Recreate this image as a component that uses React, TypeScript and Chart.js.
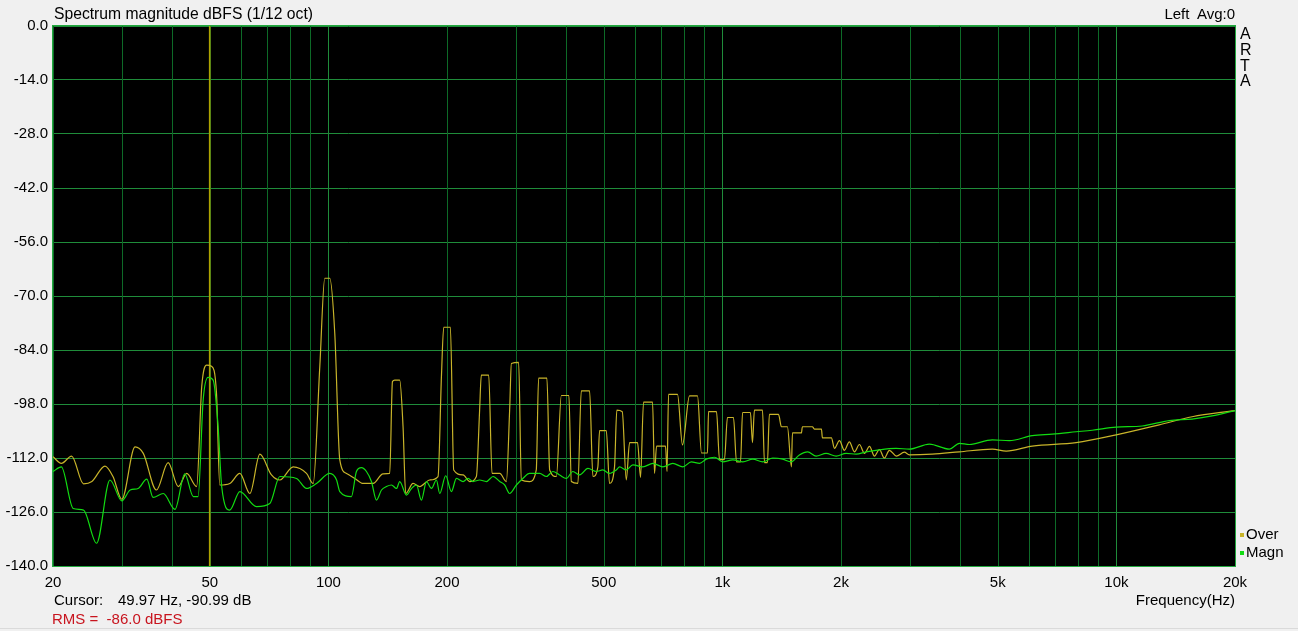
import React, { useEffect, useRef } from 'react';
import { Chart, registerables } from 'chart.js';

Chart.register(...registerables);

// ---- Data ----
const overFreq = [
  20, 21.0, 22.3, 23.9, 25.1, 27.1, 28.4, 29.9, 32.3, 33.9, 36.6, 39.2, 41.6, 43.7, 46.3,
  47.7, 49.1, 50.5, 52.0, 53.0, 56.2, 59.6, 63.2, 67.0, 71.7, 75.3, 81.4, 88.0, 91.5,
  95.1, 97.9, 100.8, 103.8, 106.9, 111.2, 116.7, 122.5, 129.9, 137.6, 143.1,
  145.4, 147.4, 151.7, 154.7, 157.1, 164, 170.5, 180.8, 189.8,
  193.6, 196.2, 204, 208, 219.7, 228.4, 237.5,
  242, 244.4, 255.2, 260.2, 272.2, 283,
  288.4, 291.4, 304, 308.9, 324, 337,
  341.6, 358.6, 364.4, 379,
  390.2, 407.8, 413.6, 429.8,
  438.4, 460.2, 469.2, 483,
  487.8, 507.4, 517, 532.4,
  539.6, 557, 570.2,
  581.4, 609, 619.8,
  630.8, 664.8, 672.6,
  680.6, 717.2, 723.6,
  730, 769.2, 792,
  825.2, 864.6, 885, 916.6,
  922, 966.2, 983.2, 1012,
  1030, 1067, 1086, 1112,
  1125, 1178, 1192,
  1206, 1264, 1279, 1301,
  1316, 1388, 1412, 1462, 1497,
  1506, 1587, 1596, 1692, 1712, 1784, 1794, 1891,
  1925, 1982, 2040, 2100, 2163, 2228, 2294, 2362, 2432, 2503, 2576, 2654, 2764, 2896, 2982,
  3410, 3995, 4842, 5253, 6116, 7907, 9988, 12842, 15566, 20000,
];
const overDb = [
  -111.7, -113.4, -111.5, -118.7, -118.1, -114.1, -116.8, -122.7, -109.1, -110.8, -120.3, -113.2, -119.4, -116, -119.4,
  -93.5, -87.9, -88.2, -95.2, -119, -118.6, -116, -121.2, -111, -116.4, -117.7, -114.3, -116, -118.6,
  -88.3, -65.4, -65.4, -79.7, -112.5, -116, -117.3, -118.6, -118.6, -116.1, -116,
  -92.2, -91.8, -91.8, -103.9, -121.2, -118.6, -119.4, -117.7, -116.8,
  -90.9, -78.1, -78.1, -115.1, -116.4, -118.1, -116.8,
  -99.6, -90.5, -90.5, -116, -116, -118.1,
  -99.6, -87.5, -87.2, -117.7, -118.1, -115.1,
  -91.3, -91.3, -115.1, -116.8,
  -95.8, -95.8, -118.1, -118.6,
  -94.6, -94.6, -116.8, -114.3,
  -104.9, -104.9, -118.6, -114.3,
  -99.6, -100, -117.7,
  -108, -108, -117,
  -97.5, -97.5, -116,
  -108.9, -108.9, -115.5,
  -95.5, -95.5, -108.6,
  -95.9, -95.9, -110.7, -110.7,
  -100, -100, -112.4, -112.4,
  -101.5, -101.5, -113, -113,
  -100.2, -100.2, -108,
  -99.6, -99.6, -113.2, -113.2,
  -100.7, -100.7, -103.9, -103.9, -114.3,
  -105.5, -105.5, -103.9, -103.9, -104.5, -104.5, -106.8, -106.8,
  -109.5, -107.5, -110, -107.8, -110.4, -108.5, -110.8, -109, -111.5, -109.8, -112, -110, -111.5, -110.5, -111.2,
  -111, -110.4, -109.7, -110.2, -108.9, -108, -106, -103.4, -101.3, -99.7,
];

const magnFreq = [
  20, 21.0, 22.5, 23.9, 25.8, 27.9, 29.9, 31.4, 32.9, 34.6, 35.9, 38.1, 40.8, 43.2, 45.4, 46.7,
  48.1, 49.5, 51.0, 52.5, 53.6, 56.2, 59.6, 65.7, 71.0, 75.3, 83.0, 88.0, 93.3, 100.8,
  104.9, 106.9, 114.4, 117.8, 121.3, 124.9, 128.6, 132.4, 136.4, 140.4, 144.6, 148.9, 151.7,
  157.8, 162.5, 167.3, 172.2, 177.4, 182.6, 188.0, 191.7, 198.5, 205.2, 211.3, 219.7, 226.2,
  232.8, 242, 251.8, 261.8, 272.2, 280.2, 288.4, 300, 311.6, 324, 343.8, 357.4, 371.4, 386.2,
  401.6, 417.4, 434.2, 455.8, 478.6, 497.2, 517, 537.8, 548.4, 570.2, 592.6, 628.4, 666.2, 706,
  748.6, 793.6, 833.6, 875, 909.8, 954.8, 1002, 1063, 1127, 1194, 1266, 1342, 1423, 1494,
  1568, 1646, 1729, 1833, 1944, 2060, 2184, 2316, 2454, 2759, 2982, 3352, 3768, 3995, 4234,
  4842, 5348, 6116, 6874, 7907, 8682, 9988, 11630, 13614, 15566, 17496, 20000,
];
const magnDb = [
  -115.5, -114.3, -125.1, -125.5, -134.1, -117.7, -123.1, -120.3, -119.9, -117.5, -122.2, -121.2, -125.3, -116.1, -122, -122,
  -97, -91.1, -91.8, -103.9, -119.4, -125.5, -120.7, -124.6, -123.8, -116.8, -117.3, -119.9, -118.6, -116,
  -117.7, -120.7, -122, -115.5, -114.5, -115.5, -118.1, -122.9, -120.3, -119.4, -119, -119.9, -118.1,
  -121.6, -119.9, -119, -122.9, -118.1, -119.9, -117.7, -121.2, -116.6, -120.7, -117.3, -118.1, -117.3,
  -118.1, -117.7, -118.1, -116.8, -118.1, -119, -121.2, -119, -117.3, -116, -116, -116.8, -115.5, -116.4,
  -117.3, -115.5, -116.4, -114.7, -115.5, -115.1, -116, -115.1, -114.3, -115.1, -113.8, -114.3, -113.4, -114.3,
  -113.4, -114.3, -113, -113.4, -112.3, -111.8, -113, -112.5, -113, -112.3, -113, -112, -112.3, -113,
  -111.2, -110.4, -111.5, -110.8, -111.5, -110.8, -111, -110.4, -110, -109.5, -109.7, -108.4, -109.7, -108.2, -108.5,
  -107.3, -107.5, -106.2, -105.8, -105.2, -104.8, -104, -103.7, -102.3, -101.9, -101.1, -99.7,
];

const cursorFreq = 49.97;
const cursorDb = -90.99;
const rmsDbfs = -86.0;

const xGridValues = [
  20, 30, 40, 50, 60, 70, 80, 90, 100, 200, 300, 400, 500, 600, 700, 800, 900,
  1000, 2000, 3000, 4000, 5000, 6000, 7000, 8000, 9000, 10000, 20000,
];
const xDecadeValues = [100, 1000, 10000];
const xLabelValues = [20, 50, 100, 200, 500, 1000, 2000, 5000, 10000, 20000];
const xLabelTexts = ['20', '50', '100', '200', '500', '1k', '2k', '5k', '10k', '20k'];

const yMin = -140;
const yMax = 0;
const yStep = 14;

const seriesNames = ['Over', 'Magn'];
const seriesColors = ['#c8b42a', '#12dc12'];
const cursorColor = '#ada200';
const gridMajor = '#1f8c3a';
const gridMinor = '#0d6a27';

const FONT = "'Liberation Sans', Arial, sans-serif";

const plotFrame = {
  id: 'plotFrame',
  beforeDraw(chart: any) {
    const { ctx, chartArea } = chart;
    const { left, top, right, bottom } = chartArea;
    ctx.save();
    ctx.fillStyle = '#000000';
    ctx.fillRect(left, top, right - left, bottom - top);
    ctx.restore();
  },
  beforeDatasetsDraw(chart: any) {
    const { ctx, chartArea, scales } = chart;
    const { top, bottom } = chartArea;
    ctx.save();
    ctx.lineWidth = 1;
    xGridValues.forEach((v) => {
      const px = Math.round(scales.x.getPixelForValue(v)) + 0.5;
      ctx.strokeStyle = xDecadeValues.indexOf(v) >= 0 ? gridMajor : gridMinor;
      ctx.beginPath();
      ctx.moveTo(px, top);
      ctx.lineTo(px, bottom);
      ctx.stroke();
    });
    ctx.restore();
  },
  afterDraw(chart: any) {
    const { ctx, chartArea } = chart;
    const { left, top, right, bottom } = chartArea;
    ctx.save();
    ctx.strokeStyle = '#22a83e';
    ctx.lineWidth = 1;
    ctx.strokeRect(Math.round(left) - 0.5, Math.round(top) - 0.5, Math.round(right - left) + 1, Math.round(bottom - top) + 1);
    ctx.restore();
  },
};

function ChartCanvas() {
  const ref = useRef<HTMLCanvasElement | null>(null);
  useEffect(() => {
    document.body.style.margin = '0';
    const canvas = ref.current;
    if (!canvas) return;
    const overData = overFreq.map((f, i) => ({ x: f, y: overDb[i] }));
    const magnData = magnFreq.map((f, i) => ({ x: f, y: magnDb[i] }));
    const chart = new Chart(canvas, {
      type: 'line',
      data: {
        datasets: [
          {
            label: seriesNames[1],
            data: magnData,
            borderColor: seriesColors[1],
            borderWidth: 1.2,
            pointRadius: 0,
            cubicInterpolationMode: 'monotone',
            order: 0,
          },
          {
            label: seriesNames[0],
            data: overData,
            borderColor: seriesColors[0],
            borderWidth: 1.2,
            pointRadius: 0,
            cubicInterpolationMode: 'monotone',
            order: 1,
          },
          {
            label: 'Cursor',
            data: [
              { x: cursorFreq, y: yMax },
              { x: cursorFreq, y: yMin },
            ],
            borderColor: cursorColor,
            borderWidth: 1.6,
            pointRadius: 0,
            order: 2,
          },
        ],
      },
      options: {
        animation: false,
        responsive: false,
        maintainAspectRatio: false,
        events: [],
        layout: { padding: { left: 0, top: 26, right: 63, bottom: 0 } },
        plugins: {
          legend: { display: false },
          tooltip: { enabled: false },
          title: { display: false },
        },
        scales: {
          x: {
            type: 'logarithmic',
            min: 20,
            max: 20000,
            afterBuildTicks: (scale: any) => {
              scale.ticks = xGridValues.map((v) => ({ value: v }));
            },
            afterFit: (scale: any) => {
              scale.height = 65;
            },
            grid: { display: false, drawTicks: false },
            border: { display: false },
            ticks: {
              autoSkip: false,
              maxRotation: 0,
              padding: 8,
              color: '#000',
              font: { family: FONT, size: 15 },
              callback: (value: any) => {
                const idx = xLabelValues.indexOf(Number(value));
                return idx >= 0 ? xLabelTexts[idx] : '';
              },
            },
          },
          y: {
            type: 'linear',
            min: yMin,
            max: yMax,
            afterFit: (scale: any) => {
              scale.width = 53;
            },
            grid: { color: gridMajor, lineWidth: 1, drawTicks: false },
            border: { display: false },
            ticks: {
              stepSize: yStep,
              padding: 5,
              color: '#000',
              font: { family: FONT, size: 15 },
              callback: (value: any) => Number(value).toFixed(1),
            },
          },
        },
      },
      plugins: [plotFrame],
    } as any);
    return () => chart.destroy();
  }, []);
  return <canvas ref={ref} width={1298} height={631} style={{ position: 'absolute', left: 0, top: 0, width: 1298, height: 631 }} />;
}

const textStyle = (left: number, centerY: number, extra: any = {}) => ({
  position: 'absolute' as const,
  left,
  top: centerY - 9,
  height: 18,
  lineHeight: '18px',
  fontFamily: FONT,
  fontSize: 15,
  color: '#000',
  whiteSpace: 'pre' as const,
  ...extra,
});

export default function App() {
  const artaLetters = ['A', 'R', 'T', 'A'];
  return (
    <div style={{ position: 'absolute', left: 0, top: 0, width: 1298, height: 631, background: '#f0f0f0', overflow: 'hidden' }}>
      <ChartCanvas />
      <div style={textStyle(54, 14, { fontSize: 15.7 })}>Spectrum magnitude dBFS (1/12 oct)</div>
      <div style={textStyle(0, 14, { left: undefined, right: 1298 - 1235 })}>{'Left  Avg:0'}</div>
      {artaLetters.map((l, i) => (
        <div key={i} style={textStyle(1240, 34 + i * 15.8, { fontSize: 16 })}>{l}</div>
      ))}
      {seriesNames.map((n, i) => (
        <div key={n} style={textStyle(1240, 534 + i * 18)}>
          <span style={{ display: 'inline-block', width: 4, height: 4, background: seriesColors[i], marginRight: 2, verticalAlign: 'middle' }} />
          {n}
        </div>
      ))}
      <div style={textStyle(54, 600)}>Cursor:</div>
      <div style={textStyle(118, 600)}>{cursorFreq.toFixed(2) + ' Hz, ' + cursorDb.toFixed(2) + ' dB'}</div>
      <div style={textStyle(0, 600, { left: undefined, right: 1298 - 1235 })}>Frequency(Hz)</div>
      <div style={textStyle(52, 619, { color: '#c8141e' })}>{'RMS =  ' + rmsDbfs.toFixed(1) + ' dBFS'}</div>
      <div style={{ position: 'absolute', left: 0, top: 628, width: 1298, height: 1, background: '#dadada' }} />
    </div>
  );
}
